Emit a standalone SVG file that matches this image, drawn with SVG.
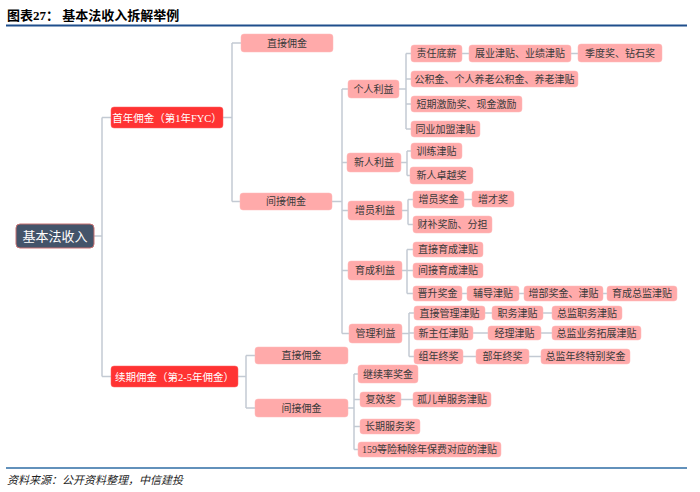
<svg xmlns="http://www.w3.org/2000/svg" width="700" height="492" viewBox="0 0 700 492">
<style>
.bg{fill:#ffffff}
.title{font-family:"Liberation Serif","Noto Sans CJK SC",serif;font-size:13px;font-weight:bold;fill:#000}
.foot{font-family:"Liberation Serif","Noto Sans CJK SC",serif;font-size:11px;font-style:italic;fill:#222}
.conn{fill:none;stroke:#C3CAD3;stroke-width:1.5}
.pk rect{fill:#FFAAAA;stroke:#FFB8B8;stroke-width:0.5}
.pk text{font-family:"Liberation Serif","Noto Sans CJK SC",serif;font-size:10px;fill:#3a3a3a;text-anchor:middle}
.rd rect{fill:#FF3333;stroke:#FF6060;stroke-width:0.5}
.rd text{font-family:"Liberation Serif","Noto Sans CJK SC",serif;font-size:10.5px;fill:#ffffff;text-anchor:middle}
.rt rect{fill:#44546A;stroke:#C87070;stroke-width:1}
.rt text{font-family:"Liberation Serif","Noto Sans CJK SC",serif;font-size:13px;fill:#ffffff;text-anchor:middle}
</style>
<rect class="bg" x="0" y="0" width="700" height="492"/>
<text class="title" x="7" y="20">图表27： 基本法收入拆解举例</text>
<line x1="6" y1="25.5" x2="687" y2="25.5" stroke="#1F4E8C" stroke-width="2"/>
<line x1="6" y1="468" x2="687" y2="468" stroke="#2E6DA4" stroke-width="1.5"/>
<text class="foot" x="7" y="484">资料来源：公开资料整理，中信建投</text>

<g id="connectors" class="conn">
<path d="M94,236H102 M102,117.5V376.5 M102,117.5H111 M102,376.5H111"/>
<path d="M223,117.5H232 M232,43V201.5 M232,43H241 M232,201.5H240"/>
<path d="M332,201.5H342 M342,89V333.5 M342,89H348 M342,162.5H347 M342,210.5H348 M342,270.5H348 M342,333.5H349"/>
<path d="M399,89H406 M406,53.5V129 M406,53.5H411 M406,79H411 M406,104H411 M406,129H411 M462,53.5H469 M571,53.5H578"/>
<path d="M401,162.5H407 M407,151V175.5 M407,151H411 M407,175.5H410"/>
<path d="M402,210.5H408 M408,199.5V224.5 M408,199.5H413 M408,224.5H413 M464,199.5H472"/>
<path d="M402,270.5H407 M407,249.5V293.5 M407,249.5H413 M407,270.5H413 M407,293.5H413 M462,293.5H467 M519,293.5H524 M603,293.5H607"/>
<path d="M402,333.5H409 M409,313V356.5 M409,313H414 M409,333H414 M409,356.5H414 M485,313H492 M543,313H552 M473,333H488 M541,333H552 M463,356.5H476 M529,356.5H541"/>
<path d="M238,376.5H246 M246,355.5V408 M246,355.5H255 M246,408H255"/>
<path d="M348,408H354 M354,374V449.5 M354,374H358 M354,399.5H360 M354,426.5H360 M354,449.5H358 M401,399.5H413"/>
</g>

<g id="root" class="rt"><rect x="16" y="224" width="78" height="24" rx="4"/><text x="55" y="240.5">基本法收入</text></g>
<g id="n-fyc" class="rd"><rect x="111" y="107" width="112" height="21" rx="3"/><text x="167" y="121.5">首年佣金（第1年FYC）</text></g>
<g id="n-renew" class="rd"><rect x="111" y="366" width="127" height="21" rx="3"/><text x="174.5" y="380.5">续期佣金（第2-5年佣金）</text></g>

<g id="n-direct1" class="pk"><rect x="241" y="34" width="92" height="18" rx="3"/><text x="287" y="46.5">直接佣金</text></g>
<g id="n-indirect1" class="pk"><rect x="240" y="193" width="92" height="17" rx="3"/><text x="286" y="205">间接佣金</text></g>

<g id="n-personal" class="pk"><rect x="348" y="80" width="51" height="18" rx="3"/><text x="373.5" y="92.5">个人利益</text></g>
<g id="n-newbie" class="pk"><rect x="347" y="153" width="54" height="19" rx="3"/><text x="374" y="166">新人利益</text></g>
<g id="n-recruit" class="pk"><rect x="348" y="201" width="54" height="19" rx="3"/><text x="375" y="214">增员利益</text></g>
<g id="n-develop" class="pk"><rect x="348" y="261" width="54" height="19" rx="3"/><text x="375" y="274">育成利益</text></g>
<g id="n-manage" class="pk"><rect x="349" y="324" width="53" height="19" rx="3"/><text x="375.5" y="337">管理利益</text></g>

<g id="n-base" class="pk"><rect x="411" y="45" width="51" height="17" rx="3"/><text x="436.5" y="57">责任底薪</text></g>
<g id="n-allow1" class="pk"><rect x="469" y="45" width="102" height="17" rx="3"/><text x="520" y="57">展业津贴、业绩津贴</text></g>
<g id="n-quarter" class="pk"><rect x="578" y="44" width="84" height="18" rx="3"/><text x="620" y="56.5">季度奖、钻石奖</text></g>
<g id="n-fund" class="pk"><rect x="411" y="71" width="167" height="16" rx="3"/><text x="494.5" y="82.5">公积金、个人养老公积金、养老津贴</text></g>
<g id="n-short" class="pk"><rect x="411" y="96" width="111" height="16" rx="3"/><text x="466.5" y="107.5">短期激励奖、现金激励</text></g>
<g id="n-join" class="pk"><rect x="411" y="121" width="69" height="16" rx="3"/><text x="445.5" y="132.5">同业加盟津贴</text></g>

<g id="n-train" class="pk"><rect x="411" y="143" width="51" height="16" rx="3"/><text x="436.5" y="154.5">训练津贴</text></g>
<g id="n-excel" class="pk"><rect x="410" y="167" width="63" height="17" rx="3"/><text x="441.5" y="179">新人卓越奖</text></g>

<g id="n-rbonus" class="pk"><rect x="413" y="191" width="51" height="17" rx="3"/><text x="438.5" y="203">增员奖金</text></g>
<g id="n-talent" class="pk"><rect x="472" y="191" width="42" height="16" rx="3"/><text x="493" y="202.5">增才奖</text></g>
<g id="n-subsidy" class="pk"><rect x="413" y="216" width="79" height="17" rx="3"/><text x="452.5" y="228">财补奖励、分担</text></g>

<g id="n-ddev" class="pk"><rect x="413" y="242" width="70" height="15" rx="3"/><text x="448" y="253">直接育成津贴</text></g>
<g id="n-idev" class="pk"><rect x="413" y="263" width="70" height="15" rx="3"/><text x="448" y="274">间接育成津贴</text></g>
<g id="n-promo" class="pk"><rect x="413" y="286" width="49" height="15" rx="3"/><text x="437.5" y="297">晋升奖金</text></g>
<g id="n-coach" class="pk"><rect x="467" y="286" width="52" height="15" rx="3"/><text x="493" y="297">辅导津贴</text></g>
<g id="n-dept" class="pk"><rect x="524" y="286" width="79" height="15" rx="3"/><text x="563.5" y="297">增部奖金、津贴</text></g>
<g id="n-dirdev" class="pk"><rect x="607" y="286" width="70" height="15" rx="3"/><text x="642" y="297">育成总监津贴</text></g>

<g id="n-dmgmt" class="pk"><rect x="414" y="306" width="71" height="14" rx="3"/><text x="449.5" y="316.5">直接管理津贴</text></g>
<g id="n-post" class="pk"><rect x="492" y="306" width="51" height="14" rx="3"/><text x="517.5" y="316.5">职务津贴</text></g>
<g id="n-dirpost" class="pk"><rect x="552" y="306" width="70" height="14" rx="3"/><text x="587" y="316.5">总监职务津贴</text></g>
<g id="n-supv" class="pk"><rect x="414" y="326" width="59" height="14" rx="3"/><text x="443.5" y="336.5">新主任津贴</text></g>
<g id="n-mgr" class="pk"><rect x="488" y="326" width="53" height="14" rx="3"/><text x="514.5" y="336.5">经理津贴</text></g>
<g id="n-dirbiz" class="pk"><rect x="552" y="326" width="89" height="14" rx="3"/><text x="596.5" y="336.5">总监业务拓展津贴</text></g>
<g id="n-grpyr" class="pk"><rect x="414" y="349" width="49" height="15" rx="3"/><text x="438.5" y="360">组年终奖</text></g>
<g id="n-deptyr" class="pk"><rect x="476" y="349" width="53" height="15" rx="3"/><text x="502.5" y="360">部年终奖</text></g>
<g id="n-diryr" class="pk"><rect x="541" y="349" width="89" height="15" rx="3"/><text x="585.5" y="360">总监年终特别奖金</text></g>

<g id="n-direct2" class="pk"><rect x="255" y="347" width="93" height="17" rx="3"/><text x="301.5" y="359">直接佣金</text></g>
<g id="n-indirect2" class="pk"><rect x="255" y="399" width="93" height="18" rx="3"/><text x="301.5" y="411.5">间接佣金</text></g>

<g id="n-persist" class="pk"><rect x="358" y="365" width="60" height="18" rx="3"/><text x="388" y="377.5">继续率奖金</text></g>
<g id="n-revive" class="pk"><rect x="360" y="392" width="41" height="15" rx="3"/><text x="380.5" y="403">复效奖</text></g>
<g id="n-orphan" class="pk"><rect x="413" y="392" width="78" height="15" rx="3"/><text x="452" y="403">孤儿单服务津贴</text></g>
<g id="n-longserv" class="pk"><rect x="360" y="419" width="60" height="15" rx="3"/><text x="390" y="430">长期服务奖</text></g>
<g id="n-159" class="pk"><rect x="358" y="442" width="143" height="15" rx="3"/><text x="429.5" y="453">159等险种除年保费对应的津贴</text></g>
</svg>
